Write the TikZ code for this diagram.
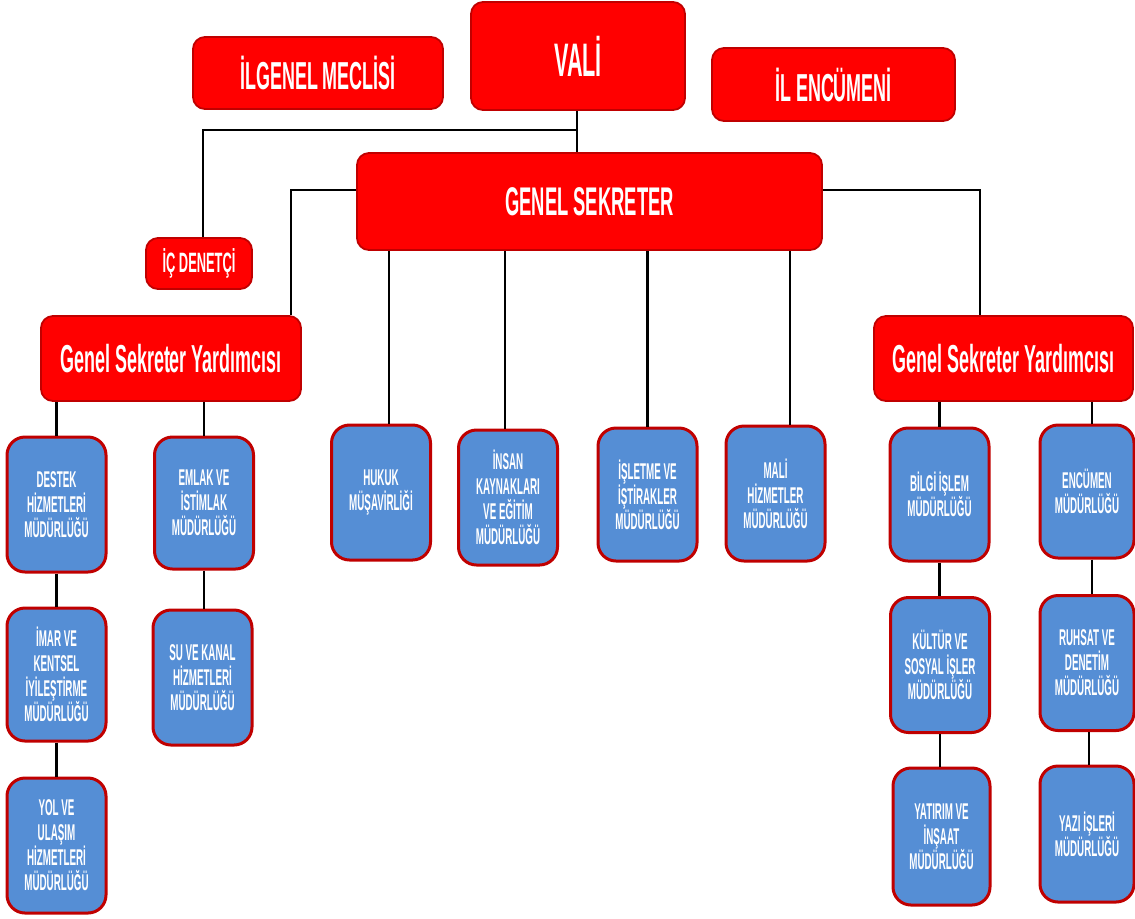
\documentclass[tikz,border=0pt]{standalone}
\usepackage{fontspec}
\newfontfamily\nf[FakeStretch=0.46]{Liberation Sans}
\newfontfamily\bluefont[FakeStretch=0.43]{Liberation Sans}
\definecolor{boxred}{RGB}{255,0,0}
\definecolor{edgered}{RGB}{192,0,0}
\definecolor{boxblue}{RGB}{85,142,213}
\tikzset{
  redbox/.style={rectangle, rounded corners=6pt, fill=boxred, draw=edgered, line width=0.9pt, text=white, inner sep=0pt},
  bluebox/.style={rectangle, rounded corners=9pt, fill=boxblue, draw=edgered, line width=1.5pt, text=white, align=center,
    font=\bluefont\bfseries\fontsize{11.4}{12.5}\selectfont, inner sep=0pt, minimum width=49.5pt, minimum height=67.5pt},
  narrowbox/.style={bluebox, minimum width=47pt},
  conn/.style={draw=black, line width=1.3pt}
}
\begin{document}
\begin{tikzpicture}[x=0.5pt,y=-0.5pt]
\useasboundingbox (0,0) rectangle (1135,918);
% red boxes
\node[redbox, minimum width=107pt, minimum height=54pt, font=\nf\bfseries\fontsize{23.5}{28}\selectfont] (vali) at (578,56) {VALİ};
\node[redbox, minimum width=125pt, minimum height=36pt, font=\nf\bfseries\fontsize{19.5}{23}\selectfont] (meclis) at (318,73) {İLGENEL MECLİSİ};
\node[redbox, minimum width=121.5pt, minimum height=36.5pt, font=\nf\bfseries\fontsize{19.5}{23}\selectfont] (encumeni) at (833.5,84.5) {İL ENCÜMENİ};
\node[redbox, minimum width=232.5pt, minimum height=48.5pt, font=\nf\bfseries\fontsize{20}{24}\selectfont] (gs) at (589.5,201.5) {GENEL SEKRETER};
\node[redbox, minimum width=53pt, minimum height=25.5pt, font=\nf\bfseries\fontsize{14}{17}\selectfont] (ic) at (199,263.5) {İÇ DENETÇİ};
\node[redbox, minimum width=130pt, minimum height=42.5pt, font=\nf\bfseries\fontsize{19.5}{23}\selectfont] (gsyL) at (171,358.5) {Genel Sekreter Yardımcısı};
\node[redbox, minimum width=129.5pt, minimum height=42.5pt, font=\nf\bfseries\fontsize{19.5}{23}\selectfont] (gsyR) at (1003.5,358.5) {Genel Sekreter Yardımcısı};
% blue boxes left
\node[bluebox] (destek) at (56.5,504.5) {DESTEK\\HİZMETLERİ\\MÜDÜRLÜĞÜ};
\node[bluebox, minimum height=66pt] (emlak) at (204,503) {EMLAK VE\\İSTİMLAK\\MÜDÜRLÜĞÜ};
\node[bluebox, minimum height=66.5pt] (imar) at (56.5,674.5) {İMAR VE\\KENTSEL\\İYİLEŞTİRME\\MÜDÜRLÜĞÜ};
\node[bluebox] (su) at (202.5,677.5) {SU VE KANAL\\HİZMETLERİ\\MÜDÜRLÜĞÜ};
\node[bluebox] (yol) at (56.5,845.5) {YOL VE\\ULAŞIM\\HİZMETLERİ\\MÜDÜRLÜĞÜ};
% blue boxes middle
\node[bluebox] (hukuk) at (381,492.5) {HUKUK\\MÜŞAVİRLİĞİ};
\node[bluebox] (insan) at (508,497.5) {İNSAN\\KAYNAKLARI\\VE EĞİTİM\\MÜDÜRLÜĞÜ};
\node[bluebox, minimum height=66.5pt] (isletme) at (647.5,494.5) {İŞLETME VE\\İŞTİRAKLER\\MÜDÜRLÜĞÜ};
\node[bluebox] (mali) at (775.5,493.5) {MALİ\\HİZMETLER\\MÜDÜRLÜĞÜ};
% blue boxes right
\node[bluebox, minimum height=66.5pt] (bilgi) at (939.5,494.5) {BİLGİ İŞLEM\\MÜDÜRLÜĞÜ};
\node[narrowbox, minimum height=66.5pt] (encumen) at (1087,491.5) {ENCÜMEN\\MÜDÜRLÜĞÜ};
\node[bluebox] (kultur) at (940,665) {KÜLTÜR VE\\SOSYAL İŞLER\\MÜDÜRLÜĞÜ};
\node[narrowbox] (ruhsat) at (1087,663) {RUHSAT VE\\DENETİM\\MÜDÜRLÜĞÜ};
\node[bluebox, minimum height=68.5pt, minimum width=48.5pt] (yatirim) at (941.5,836.5) {YATIRIM VE\\İNŞAAT\\MÜDÜRLÜĞÜ};
\node[narrowbox, minimum height=68pt] (yazi) at (1087,834) {YAZI İŞLERİ\\MÜDÜRLÜĞÜ};
% connectors
\coordinate (j1) at (577,130);
\draw[conn] (vali.south -| j1) -- (j1 |- gs.north);
\draw[conn] (j1) -| ([xshift=2pt]ic.north);
\draw[conn] ([yshift=5.75pt]gs.west) -| ([xshift=60pt]gsyL.north);
\draw[conn] ([yshift=5.75pt]gs.east) -| ([xshift=-11.75pt]gsyR.north);
\draw[conn] ([xshift=4pt]hukuk.north) -- ([xshift=4pt]hukuk.north |- gs.south);
\draw[conn] ([xshift=-1.5pt]insan.north) -- ([xshift=-1.5pt]insan.north |- gs.south);
\draw[conn] (isletme.north) -- (isletme.north |- gs.south);
\draw[conn] ([xshift=7.25pt]mali.north) -- ([xshift=7.25pt]mali.north |- gs.south);
\draw[conn] (destek.north) -- (destek.north |- gsyL.south);
\draw[conn] (emlak.north) -- (emlak.north |- gsyL.south);
\draw[conn] (destek.south) -- (destek.south |- imar.north);
\draw[conn] (imar.south) -- (imar.south |- yol.north);
\draw[conn] (emlak.south) -- (emlak.south |- su.north);
\draw[conn] (bilgi.north) -- (bilgi.north |- gsyR.south);
\draw[conn] ([xshift=2.5pt]encumen.north) -- ([xshift=2.5pt]encumen.north |- gsyR.south);
\draw[conn] (bilgi.south) -- (bilgi.south |- kultur.north);
\draw[conn] (kultur.south) -- (kultur.south |- yatirim.north);
\draw[conn] ([xshift=2.5pt]encumen.south) -- ([xshift=2.5pt]encumen.south |- ruhsat.north);
\draw[conn] ([xshift=1pt]ruhsat.south) -- ([xshift=1pt]ruhsat.south |- yazi.north);
\end{tikzpicture}
\end{document}
